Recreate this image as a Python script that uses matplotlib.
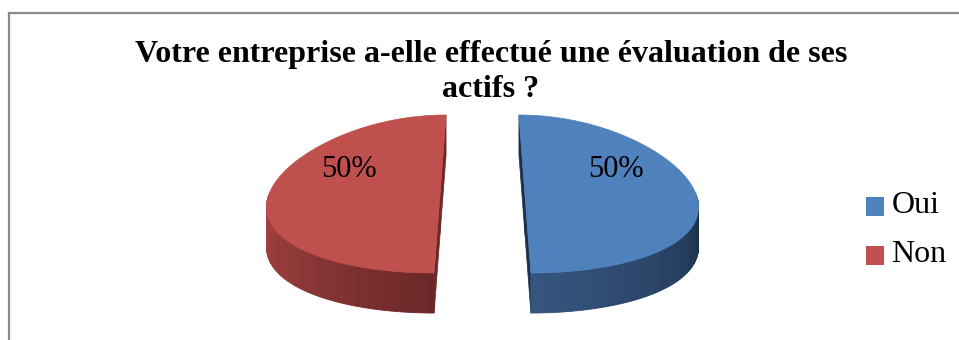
import numpy as np
import matplotlib.pyplot as plt
from matplotlib.patches import Polygon, Patch, Rectangle
from matplotlib.lines import Line2D
from matplotlib.colors import to_rgb
from matplotlib.legend_handler import HandlerPatch

labels = ['Oui', 'Non']
values = [50, 50]
pct_labels = ['50%', '50%']
top_colors = ['#4F81BD', '#C0504D']
side_light = ['#34557E', '#AA4642']
side_dark = ['#1D2F4A', '#6C2728']

title_lines = ['Votre entreprise a-elle effectué une évaluation de ses', 'actifs ?']

W, H = 959, 340
SERIF = 'Liberation Serif'

# 3d pie look: ellipse squash, wall height, perspective, explode distance
ry = 0.462
depth = 0.234
persp = 0.141
explode = 0.248


def project(u, v, drop=0.0):
    k = 1 - persp * v
    return u * k, v * ry - drop


def mix(c1, c2, f):
    a, b = np.array(to_rgb(c1)), np.array(to_rgb(c2))
    return tuple(a + (b - a) * f)


def low_square(legend, orig_handle, xdescent, ydescent, width, height, fontsize):
    # legend keys sit a little below the text centre
    return Rectangle((-xdescent, -ydescent - 0.25 * height), width, height)


fig = plt.figure(figsize=(W / 100, H / 100), dpi=100)

# chart area border (left and top edges only show)
fig.add_artist(Line2D([9 / W, 9 / W], [0, 1 - 13 / H], color='#8A8A8A', lw=1.6,
                      transform=fig.transFigure))
fig.add_artist(Line2D([9 / W, 1], [1 - 13 / H, 1 - 13 / H], color='#8A8A8A', lw=1.6,
                      transform=fig.transFigure))

ax = fig.add_axes([234.5 / W, (H - 330.8) / H, 496 / W, 239.4 / H])
ax.set_xlim(-1.45, 1.45)
ax.set_ylim(-0.8, 0.6)
ax.axis('off')

fracs = np.array(values, float) / sum(values)
bounds = 90 - 360 * np.concatenate([[0], np.cumsum(fracs)])

cut_faces, walls, tops, texts = [], [], [], []
for i in range(len(values)):
    t1, t2 = bounds[i], bounds[i + 1]
    mid = np.radians((t1 + t2) / 2)
    ox, oy = explode * np.cos(mid), explode * np.sin(mid)

    t = np.radians(np.linspace(t1, t2, 200))
    au, av = ox + np.cos(t), oy + np.sin(t)

    # flat cut faces along the two radii
    for tt in (t[0], t[-1]):
        eu, ev = ox + np.cos(tt), oy + np.sin(tt)
        pts = [project(ox, oy), project(eu, ev), project(eu, ev, depth), project(ox, oy, depth)]
        cut_faces.append(Polygon(pts, closed=True, fc=side_dark[i], ec=side_dark[i], lw=0.5))

    # outer wall where it faces the viewer
    front = np.sin(t) < 0
    wu, wv = au[front], av[front]
    xs = np.array([project(a, b)[0] for a, b in zip(wu, wv)])
    if len(wu) > 1:
        order = np.argsort(xs)
        wu, wv = wu[order], wv[order]
        n = len(wu)
        for j in range(n - 1):
            f = j / (n - 2) if n > 2 else 0
            c = mix(side_light[i], side_dark[i], f)
            pts = [project(wu[j], wv[j]), project(wu[j + 1], wv[j + 1]),
                   project(wu[j + 1], wv[j + 1], depth), project(wu[j], wv[j], depth)]
            walls.append(Polygon(pts, closed=True, fc=c, ec=c, lw=0.6))

    top = [project(ox, oy)] + [project(a, b) for a, b in zip(au, av)]
    tops.append(Polygon(top, closed=True, fc=top_colors[i], ec=top_colors[i], lw=0.5))

    lx, ly = project(ox + 0.53 * np.cos(mid), oy + 0.53 * np.sin(mid))
    texts.append((lx, ly + 0.1, pct_labels[i]))

for p in cut_faces + walls + tops:
    ax.add_patch(p)

for x, y, s in texts:
    ax.text(x, y, s, ha='center', va='baseline', fontsize=22, family=SERIF, color='black')

fig.text(491 / W, 1 - 62 / H, title_lines[0], ha='center', va='baseline',
         fontsize=23, fontweight='bold', family=SERIF)
fig.text(491 / W, 1 - 97 / H, title_lines[1], ha='center', va='baseline',
         fontsize=23, fontweight='bold', family=SERIF)

handles = [Patch(fc=c, ec='none') for c in top_colors]
fig.legend(handles, labels, loc='center left', bbox_to_anchor=(866 / W, 1 - 230 / H),
           frameon=False, prop={'family': SERIF, 'size': 23},
           handlelength=0.55, handleheight=0.55, handletextpad=0.25,
           labelspacing=0.62, borderpad=0, borderaxespad=0,
           handler_map={Patch: HandlerPatch(patch_func=low_square)})

fig.savefig('out.png', dpi=100, facecolor='white')
